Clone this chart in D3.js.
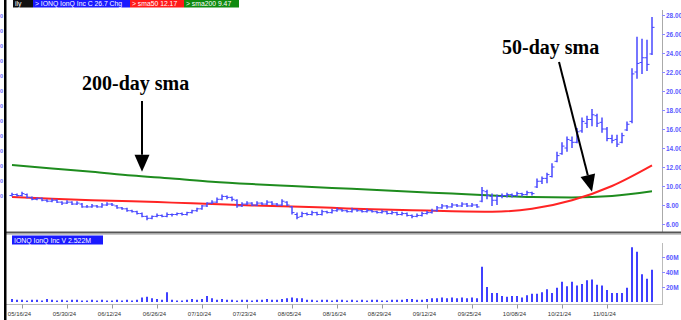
<!DOCTYPE html>
<html><head><meta charset="utf-8">
<script src="https://cdn.jsdelivr.net/npm/d3@7/dist/d3.min.js"></script>
<style>body{margin:0;background:#fff;overflow:hidden}svg{display:block}</style>
</head><body>
<svg id="c" width="681" height="320"></svg>
<script>
// ---- data (daily bars 05/14/24 .. 11/14/24) ----
const opens=[9.0,9.1,9.0,9.1,8.8,8.6,8.7,8.5,8.4,8.5,
8.3,8.2,8.3,8.1,8.1,7.8,7.8,7.9,7.8,8.0,
8.1,7.9,7.7,7.6,7.4,7.3,7.1,6.8,6.6,6.8,
6.9,6.8,7.0,7.0,7.1,7.0,7.2,7.4,7.6,7.9,
8.2,8.3,8.6,8.9,8.8,8.5,7.9,8.1,8.2,8.0,
8.2,8.1,8.3,8.1,8.0,8.3,7.8,7.0,6.8,7.1,
7.0,7.2,7.0,7.3,7.2,7.4,7.5,7.4,7.3,7.5,
7.4,7.3,7.4,7.3,7.2,7.3,7.1,7.2,7.0,7.1,
6.9,6.8,6.9,7.1,7.2,7.4,7.7,7.9,7.8,8.0,
7.9,8.1,7.9,8.0,8.4,9.4,8.9,8.5,8.9,9.0,
9.1,9.0,9.2,9.1,9.3,9.9,10.5,10.8,11.0,12.6,
13.4,14.0,14.8,14.6,15.8,16.6,17.0,17.4,16.7,16.0,
15.0,14.9,14.6,15.9,16.8,22.0,23.0,23.5,23.9];
const highs=[9.3,9.2,9.4,9.2,8.9,8.8,8.8,8.6,8.7,8.6,
8.4,8.5,8.4,8.4,8.2,8.0,8.1,8.0,8.2,8.3,
8.2,8.0,7.8,7.7,7.5,7.4,7.2,6.9,6.9,7.1,
7.0,7.2,7.1,7.2,7.2,7.3,7.5,7.7,8.0,8.3,
8.5,8.8,9.1,9.0,8.9,8.6,8.3,8.4,8.3,8.4,
8.3,8.5,8.4,8.2,8.6,8.4,7.9,7.2,7.3,7.2,
7.4,7.3,7.5,7.4,7.6,7.7,7.6,7.5,7.7,7.6,
7.5,7.6,7.5,7.4,7.5,7.4,7.4,7.3,7.3,7.2,
7.0,7.1,7.3,7.4,7.6,7.9,8.1,8.0,8.2,8.1,
8.3,8.2,8.2,8.1,9.9,9.6,9.2,9.1,9.2,9.3,
9.2,9.4,9.3,9.5,9.4,10.8,11.0,11.4,12.4,13.6,
14.6,15.2,15.2,16.1,17.2,17.4,18.1,17.6,17.2,16.2,
15.4,15.4,15.6,16.8,22.4,25.7,25.5,25.4,27.8];
const lows=[8.9,8.9,8.9,8.7,8.5,8.5,8.4,8.3,8.3,8.2,
8.0,8.1,8.0,8.0,7.7,7.7,7.7,7.7,7.7,7.9,
7.9,7.6,7.5,7.3,7.2,7.0,6.7,6.4,6.5,6.7,
6.7,6.7,6.8,6.9,6.9,6.9,7.1,7.3,7.5,7.8,
8.1,8.2,8.5,8.6,8.4,7.7,7.8,8.0,7.9,7.9,
8.0,8.0,8.0,7.9,7.9,7.9,7.0,6.5,6.7,6.9,
6.9,6.9,6.9,7.1,7.1,7.3,7.3,7.2,7.2,7.3,
7.2,7.2,7.2,7.1,7.1,7.0,7.0,6.9,6.9,6.8,
6.6,6.7,6.8,7.0,7.1,7.3,7.6,7.6,7.7,7.8,
7.8,7.8,7.8,7.7,8.3,8.6,7.9,8.0,8.7,8.8,
8.8,8.9,8.9,9.0,9.0,9.8,10.2,10.3,10.9,12.5,
13.3,13.6,14.0,14.5,15.6,16.1,16.3,16.2,15.6,14.7,
14.5,14.1,14.5,15.8,16.6,21.3,21.8,22.1,23.8];
const closes=[9.1,9.0,9.2,8.8,8.6,8.7,8.5,8.4,8.5,8.3,
8.2,8.3,8.1,8.2,7.8,7.8,7.9,7.8,8.0,8.1,
8.0,7.7,7.6,7.4,7.3,7.1,6.8,6.6,6.8,6.9,
6.8,7.0,7.0,7.1,7.0,7.2,7.4,7.6,7.9,8.2,
8.3,8.6,8.9,8.8,8.6,7.9,8.1,8.2,8.0,8.2,
8.1,8.3,8.1,8.0,8.4,8.0,7.2,6.7,7.1,7.0,
7.2,7.0,7.3,7.2,7.4,7.5,7.4,7.3,7.5,7.4,
7.3,7.4,7.3,7.2,7.3,7.1,7.2,7.0,7.1,6.9,
6.8,6.9,7.1,7.2,7.4,7.7,7.9,7.8,8.0,7.9,
8.1,7.9,8.0,7.8,9.5,9.0,8.5,8.9,9.0,9.1,
9.0,9.2,9.1,9.3,9.2,10.5,10.8,11.2,12.0,13.2,
14.2,14.9,14.6,15.7,16.8,17.0,17.5,16.6,16.0,15.0,
14.8,14.4,15.3,16.5,21.8,22.9,23.5,22.8,26.7];
const volumes=[4,3,3,2,3,3,2,4,3,2,
3,2,3,3,2,2,3,2,3,2,
2,3,2,3,2,3,6,7,5,4,
3,13,3,2,2,3,4,3,4,8,
5,3,4,3,3,2,3,3,2,3,
3,4,3,3,4,5,6,5,5,3,
3,2,3,3,2,3,3,2,3,2,
3,2,3,3,2,2,3,3,3,4,
4,3,3,4,5,5,6,5,6,5,
6,5,6,5,47,20,12,12,8,7,
8,8,6,9,11,11,13,17,12,19,
27,21,27,22,24,29,30,23,22,16,
12,12,12,19,73,67,37,31,43];
const smaIdx=[0,8,16,24,32,40,48,56,64,72,80,88,96,104,112,120,128];
const sma200=[12.2,11.85,11.5,11.1,10.8,10.45,10.2,10.0,9.8,9.6,9.4,9.2,9.0,8.85,8.8,8.95,9.44];
const sma50=[8.84,8.65,8.5,8.4,8.25,8.1,7.95,7.85,7.7,7.55,7.45,7.35,7.3,7.6,8.5,10.0,12.17];
const tickIdx=[2,11,20,29,38,47,56,65,74,83,92,101,110,119];
const tickLabels=["05/16/24","05/30/24","06/12/24","06/26/24","07/10/24","07/23/24","08/05/24","08/16/24","08/29/24","09/12/24","09/25/24","10/08/24","10/21/24","11/01/24"];
const priceTicks=[6,8,10,12,14,16,18,20,22,24,26,28];
const volTicks=[20,40,60];
const headerBoxes=[{t:"ily",c:"#111",w:20},{t:"> IONQ  IonQ Inc  C  26.7  Chg",c:"#1a1aff",w:97},{t:"> sma50  12.17",c:"#ff1a1a",w:54},{t:"> sma200  9.47",c:"#0f8a0f",w:55}];
const volLabel="IONQ  IonQ Inc  V  2.522M";
// annotations: label, text anchor, target bar index and price
const notes=[{t:"200-day sma",ti:26,tp:11.5,tx:82,ty:90,fx:142,fy:101},
             {t:"50-day sma",ti:116,tp:9.4,tx:502,ty:54,fx:559,fy:62}];

// ---- drawing ----
const svg=d3.select("#c");
const x=d3.scaleLinear().domain([0,128]).range([12,652]);
const y=d3.scaleLinear().domain([6,28]).range([224,15]);
const vy=d3.scaleLinear().domain([0,60]).range([302,257]);
const blue="#4848ff";

// left stub labels of neighbouring (off-picture) axis
const stub=d3.scaleLinear().domain([0,12]).range([16,196]);
svg.append("g").selectAll("text").data(d3.range(13)).join("text")
  .attr("x",0).attr("y",d=>stub(d)).attr("dy","0.35em")
  .attr("font-family","Arial").attr("font-size",5.5).attr("font-weight","bold").attr("fill","#6a6aff").text("0");

// header boxes
let hx=13;
headerBoxes.forEach(b=>{
  svg.append("rect").attr("x",hx).attr("y",0).attr("width",b.w).attr("height",7.5).attr("fill",b.c);
  svg.append("text").attr("x",hx+2).attr("y",5.9).attr("font-family","Arial").attr("font-size",6.8).attr("fill","#fff").text(b.t);
  hx+=b.w;
});

// main price axis
svg.append("line").attr("x1",662.5).attr("x2",662.5).attr("y1",10).attr("y2",232).attr("stroke","#aaa");
const pa=svg.append("g").attr("transform","translate(662,0)")
  .call(d3.axisRight(y).tickValues(priceTicks).tickFormat(d3.format(".2f")).tickSize(3).tickPadding(1));
pa.select(".domain").remove();
pa.selectAll("line").attr("stroke","#8a8aff");
pa.selectAll("text").attr("font-family","Arial").attr("font-size",6.5).attr("font-weight","bold").attr("fill","#5a5aff");

// sma lines
const line=d3.line().x((d,i)=>x(smaIdx[i])).y(d=>y(d)).curve(d3.curveMonotoneX);
svg.append("path").attr("d",line(sma200)).attr("fill","none").attr("stroke","#1e8c1e").attr("stroke-width",2);
svg.append("path").attr("d",line(sma50)).attr("fill","none").attr("stroke","#ff2424").attr("stroke-width",2);

// price OHLC bars
const bars=svg.append("g").attr("stroke",blue).attr("stroke-width",1.5);
closes.forEach((c,i)=>{
  const xi=x(i);
  bars.append("line").attr("x1",xi).attr("x2",xi).attr("y1",y(highs[i])).attr("y2",y(lows[i]));
  bars.append("line").attr("x1",xi-2.5).attr("x2",xi).attr("y1",y(opens[i])).attr("y2",y(opens[i])).attr("stroke-width",1);
  bars.append("line").attr("x1",xi).attr("x2",xi+2.5).attr("y1",y(c)).attr("y2",y(c)).attr("stroke-width",1);
});

// separator between panes
svg.append("line").attr("x1",5).attr("x2",681).attr("y1",232.5).attr("y2",232.5).attr("stroke","#555").attr("stroke-width",2);
svg.append("line").attr("x1",5).attr("x2",681).attr("y1",234.5).attr("y2",234.5).attr("stroke","#c8c8c8").attr("stroke-width",1);

// volume pane
svg.append("line").attr("x1",662.5).attr("x2",662.5).attr("y1",243).attr("y2",305).attr("stroke","#bbb");
svg.append("g").selectAll("rect").data(volumes).join("rect")
  .attr("x",(d,i)=>x(i)-1).attr("width",2).attr("y",d=>vy(d)).attr("height",d=>vy(0)-vy(d)).attr("fill","#4040ff");
const va=svg.append("g").attr("transform","translate(662,0)")
  .call(d3.axisRight(vy).tickValues(volTicks).tickFormat(d=>d+"M").tickSize(3).tickPadding(1));
va.select(".domain").remove();
va.selectAll("line").attr("stroke","#8a8aff");
va.selectAll("text").attr("font-family","Arial").attr("font-size",6.5).attr("font-weight","bold").attr("fill","#5a5aff");
// volume label
svg.append("rect").attr("x",12).attr("y",235.5).attr("width",91).attr("height",9).attr("fill","#1a1aff");
svg.append("text").attr("x",14).attr("y",242.5).attr("font-family","Arial").attr("font-size",6.9).attr("fill","#fff").text(volLabel);

// x axis
const xa=svg.append("g").attr("transform","translate(0,304.5)")
  .call(d3.axisBottom(x).tickValues(tickIdx).tickFormat((d,i)=>tickLabels[i]).tickSize(4).tickPadding(3).tickSizeOuter(0));
xa.select(".domain").attr("stroke","#bbb").attr("d","M5,0H662");
xa.selectAll("line").attr("stroke","#999");
xa.selectAll("text").attr("font-family","Arial").attr("font-size",6).attr("fill","#333").attr("dx",-3);

// left black bar
svg.append("rect").attr("x",4).attr("y",0).attr("width",2.5).attr("height",320).attr("fill","#000");

// annotations
notes.forEach(n=>{
  svg.append("text").attr("x",n.tx).attr("y",n.ty).attr("font-family","'Liberation Serif','Times New Roman',serif")
    .attr("font-weight","bold").attr("font-size",20).attr("fill","#000").text(n.t);
  const tx=x(n.ti), ty=y(n.tp);
  const ang=Math.atan2(ty-n.fy,tx-n.fx), L=17, W=7.5;
  const bx=tx-L*Math.cos(ang), by=ty-L*Math.sin(ang);
  svg.append("line").attr("x1",n.fx).attr("y1",n.fy).attr("x2",bx).attr("y2",by).attr("stroke","#000").attr("stroke-width",2);
  const px=-Math.sin(ang)*W, py=Math.cos(ang)*W;
  svg.append("path").attr("d",`M${tx},${ty}L${bx+px},${by+py}L${bx-px},${by-py}Z`).attr("fill","#000");
});
</script>
</body></html>
